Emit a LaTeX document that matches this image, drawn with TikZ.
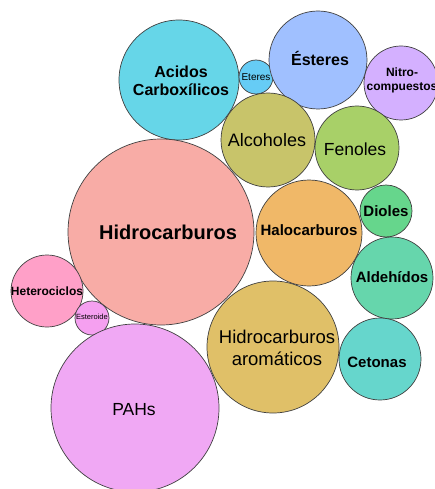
\documentclass[tikz,border=0pt]{standalone}
\usepackage{fontspec}
\setmainfont{Liberation Sans}
\begin{document}
\begin{tikzpicture}[x=1pt,y=-1pt,
  bub/.style={circle,draw=black!75,line width=0.7pt,inner sep=0pt},
  lbl/.style={align=center,text=black,inner sep=0pt},
  fsz/.style={font=\fontsize{#1}{\fpeval{#1*1.15}}\selectfont},
  fszb/.style={font=\fontsize{#1}{\fpeval{#1*1.15}}\selectfont\bfseries}]
\useasboundingbox (0,0) rectangle (434,489);
\definecolor{cAcid}{HTML}{66D6E8}
\definecolor{cEter}{HTML}{66CCF5}
\definecolor{cEster}{HTML}{A0C0FF}
\definecolor{cNitro}{HTML}{D4B0FF}
\definecolor{cAlc}{HTML}{C8C46A}
\definecolor{cFen}{HTML}{A8D068}
\definecolor{cHidro}{HTML}{F8ACA6}
\definecolor{cHalo}{HTML}{F0B868}
\definecolor{cDiol}{HTML}{66D68C}
\definecolor{cAld}{HTML}{66D6AC}
\definecolor{cArom}{HTML}{E0C068}
\definecolor{cCet}{HTML}{66D6CC}
\definecolor{cHet}{HTML}{FFA0C8}
\definecolor{cEst}{HTML}{F5A0F0}
\definecolor{cPAH}{HTML}{F0A8F4}
% circles
\node[bub,fill=cAcid,minimum size=120pt] (acid) at (179,80) {};
\node[bub,fill=cEter,minimum size=34pt] (eter) at (256,77) {};
\node[bub,fill=cEster,minimum size=98pt] (ester) at (318,60) {};
\node[bub,fill=cNitro,minimum size=74pt] (nitro) at (401,83) {};
\node[bub,fill=cAlc,minimum size=94pt] (alc) at (268,140) {};
\node[bub,fill=cFen,minimum size=84pt] (fen) at (357,148) {};
\node[bub,fill=cHidro,minimum size=186pt] (hidro) at (161,232) {};
\node[bub,fill=cHalo,minimum size=106pt] (halo) at (309,233) {};
\node[bub,fill=cDiol,minimum size=52pt] (diol) at (386,211) {};
\node[bub,fill=cAld,minimum size=82pt] (ald) at (392,278) {};
\node[bub,fill=cArom,minimum size=132pt] (arom) at (273,347) {};
\node[bub,fill=cCet,minimum size=82pt] (cet) at (380,359) {};
\node[bub,fill=cHet,minimum size=72pt] (het) at (47,291) {};
\node[bub,fill=cEst,minimum size=34pt] (est) at (92,318) {};
\node[bub,fill=cPAH,minimum size=168pt] (pah) at (135,408) {};
% labels
\node[lbl,fszb=20] (tHidro) at (168,232) {Hidrocarburos};
\node[lbl,fszb=16] (tAcid) at (181,81) {Acidos\\Carboxílicos};
\node[lbl,fsz=10] (tEter) at (256,77) {Eteres};
\node[lbl,fszb=16] (tEster) at (320,58) {Ésteres};
\node[lbl,fszb=12,text width=80pt] (tNitro) at (402,80) {Nitro-\\compuestos};
\node[lbl,fsz=18] (tAlc) at (267,140) {Alcoholes};
\node[lbl,fsz=17.5] (tFen) at (355,149) {Fenoles};
\node[lbl,fszb=15] (tHalo) at (309,230) {Halocarburos};
\node[lbl,fszb=15] (tDiol) at (386,211) {Dioles};
\node[lbl,fszb=15] (tAld) at (392,277) {Aldehídos};
\node[lbl,fsz=18.5] (tArom) at (277,348) {Hidrocarburos\\aromáticos};
\node[lbl,fszb=15] (tCet) at (377,362) {Cetonas};
\node[lbl,fszb=12] (tHet) at (47,291) {Heterociclos};
\node[lbl,fsz=7.5] (tEst) at (92,317) {Esteroide};
\node[lbl,fsz=17.5] (tPAH) at (134,410) {PAHs};
\end{tikzpicture}
\end{document}
